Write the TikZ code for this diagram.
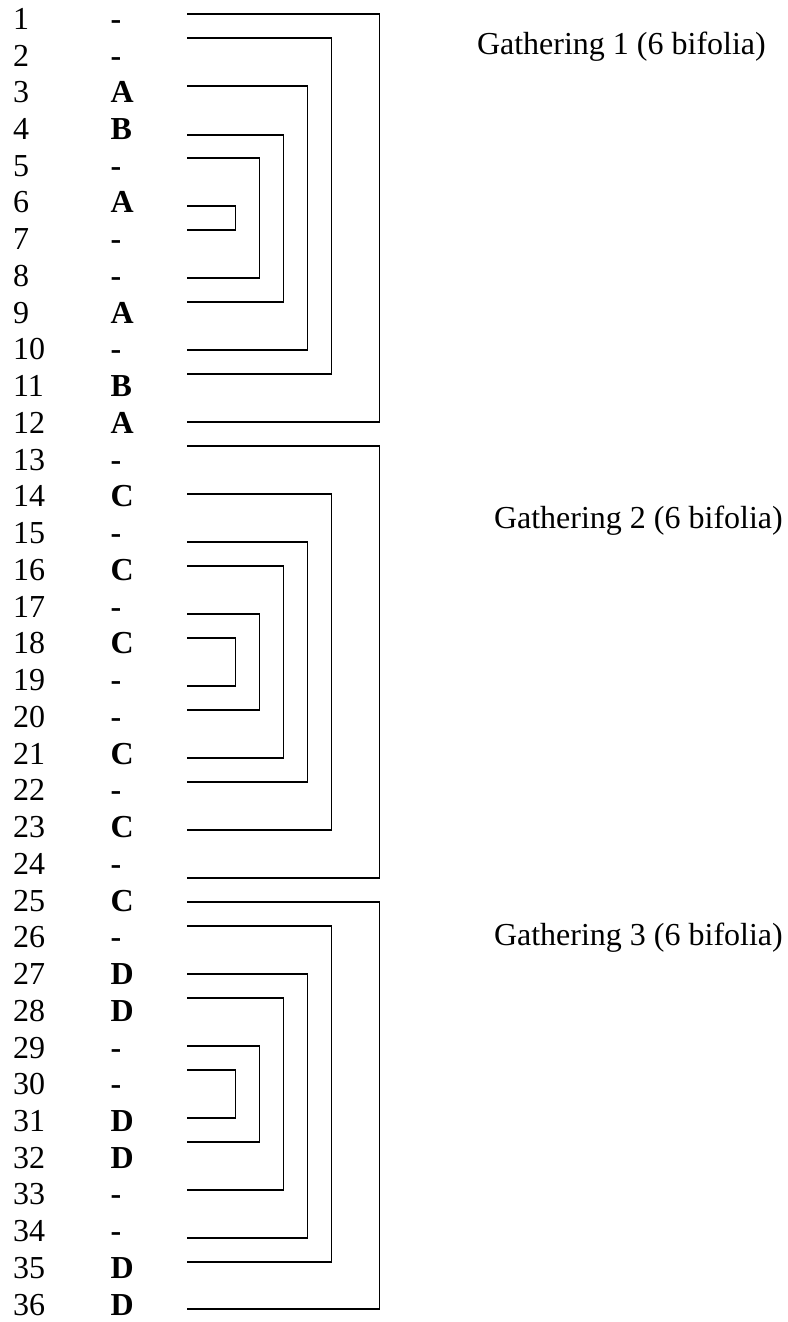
\documentclass[tikz,border=0pt]{standalone}
\usepackage{fontspec}
\setmainfont{Liberation Serif}
\begin{document}
\begin{tikzpicture}[x=0.5pt,y=-0.5pt,
  txt/.style={inner sep=0pt,outer sep=0pt,anchor=base west,
    font=\fontsize{16pt}{18pt}\selectfont},
  sigtxt/.style={txt,font=\fontsize{16pt}{18pt}\selectfont\bfseries},
  fold/.style={line width=0.65pt,line join=miter,line cap=butt}]
\useasboundingbox (0,0) rectangle (787,1322);

% folio numbers and watermark/sign letters
\foreach \n/\s in {1/-,2/-,3/A,4/B,5/-,6/A,7/-,8/-,9/A,10/-,11/B,12/A,
                   13/-,14/C,15/-,16/C,17/-,18/C,19/-,20/-,21/C,22/-,23/C,24/-,
                   25/C,26/-,27/D,28/D,29/-,30/-,31/D,32/D,33/-,34/-,35/D,36/D}{
  \node[txt] (num\n) at (13,{29.3+(\n-1)*36.74}) {\n};
  \node[sigtxt] (sig\n) at (110.5,{29.3+(\n-1)*36.74}) {\s};
}

% bifolia: top y / bottom y / fold x
\foreach \t/\b/\xx in {
   14/422/379.5, 38/374/331.5, 86/350/307.5, 135/302/283.5, 158/278/259.5, 206/230/235.5,
   446/878/379.5, 494/830/331.5, 542/782/307.5, 566/758/283.5, 614/710/259.5, 638/686/235.5,
   902/1309/379.5, 926/1262/331.5, 974/1238/307.5, 998/1190/283.5, 1046/1142/259.5, 1070/1118/235.5}{
  \draw[fold] (187,\t) -- (\xx,\t) -- (\xx,\b) -- (187,\b);
}

% gathering labels
\node[txt] (gath1) at (477,55) {Gathering 1 (6 bifolia)};
\node[txt] (gath2) at (494,528.3) {Gathering 2 (6 bifolia)};
\node[txt] (gath3) at (494,945) {Gathering 3 (6 bifolia)};
\end{tikzpicture}
\end{document}
